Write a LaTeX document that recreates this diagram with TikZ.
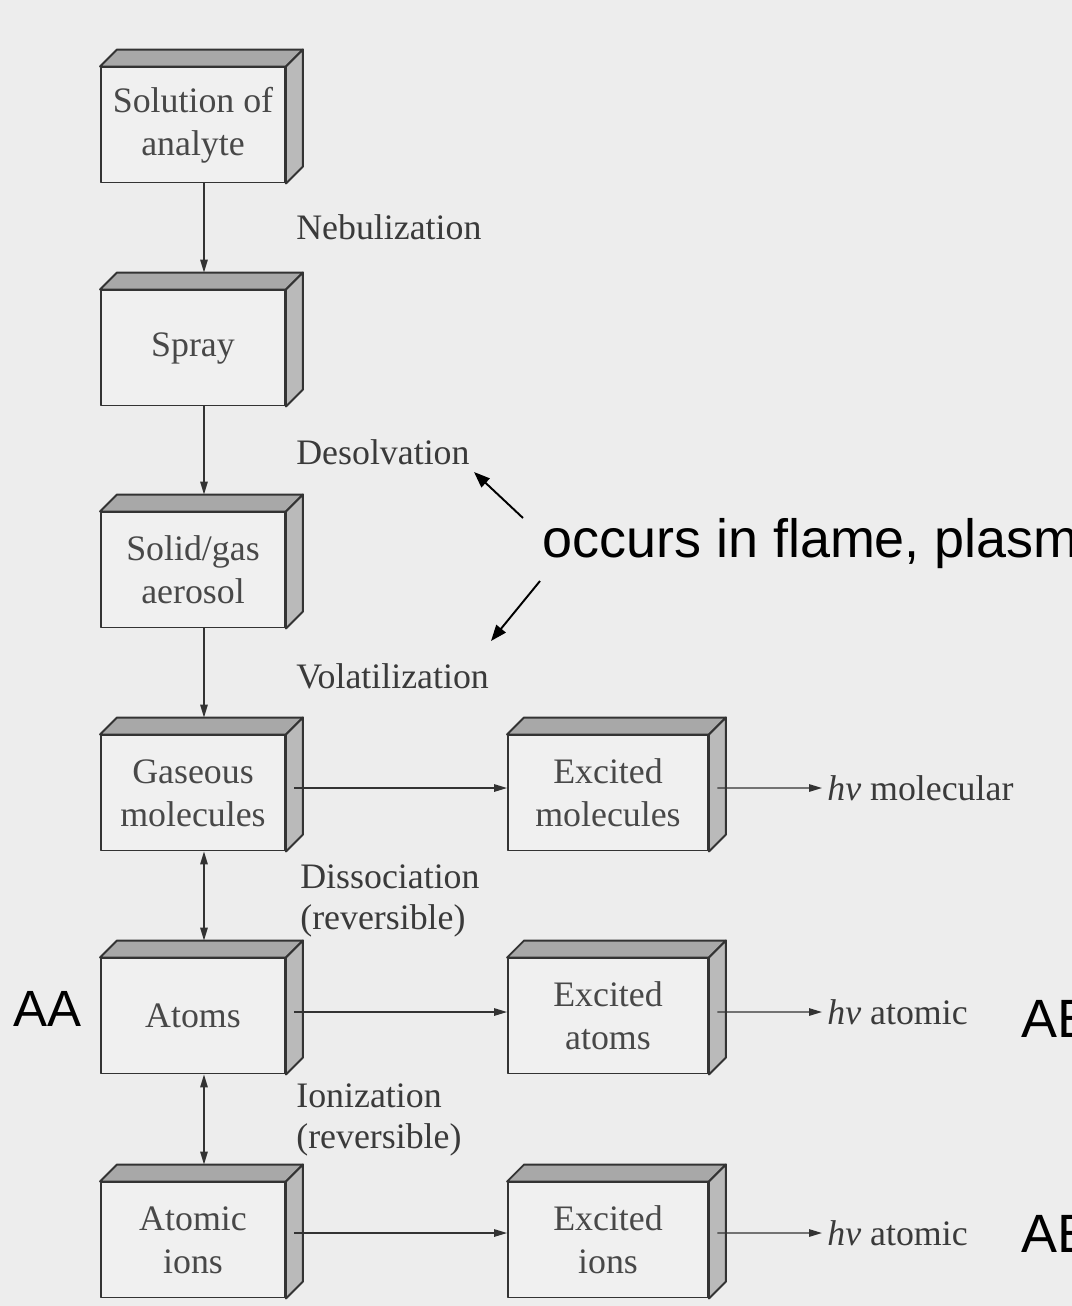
\documentclass[tikz,border=0pt]{standalone}
\usepackage{fontspec}
\setmainfont{Liberation Serif}
\newfontfamily\annotfont{Liberation Sans}
\usetikzlibrary{arrows.meta}
\definecolor{bg}{HTML}{EDEDED}
\definecolor{frontfill}{HTML}{F0F0F0}
\definecolor{topfill}{HTML}{A8A8A8}
\definecolor{sidefill}{HTML}{BABABA}
\definecolor{boxline}{HTML}{333333}
\definecolor{boxtext}{HTML}{484848}
\definecolor{labeltext}{HTML}{3A3A3A}
\newcommand{\cubefaces}[1]{%
  \filldraw[topface] (#1.north west) -- ++(17,-17) -- ([shift={(17,-17)}]#1.north east) -- (#1.north east) -- cycle;
  \filldraw[sideface] (#1.north east) -- ++(17,-17) -- ([shift={(17,-17)}]#1.south east) -- (#1.south east) -- cycle;
}
\begin{document}
\begin{tikzpicture}[x=0.02cm,y=-0.02cm,
  frontbox/.style={draw=boxline, fill=frontfill, line width=1.1pt, line join=round,
    minimum width=3.68cm, minimum height=2.3cm, inner sep=0pt, align=center,
    text=boxtext, font=\fontsize{20.4}{24.4}\selectfont},
  widebox/.style={frontbox, minimum width=4cm},
  topface/.style={draw=boxline, fill=topfill, line width=1.1pt, line join=round},
  sideface/.style={draw=boxline, fill=sidefill, line width=1.1pt, line join=round},
  flow/.style={draw=boxline, line width=0.8pt, -{Triangle[length=0.26cm,width=0.15cm]}},
  flowboth/.style={draw=boxline, line width=0.8pt, {Triangle[length=0.26cm,width=0.15cm]}-{Triangle[length=0.26cm,width=0.15cm]}},
  steplabel/.style={anchor=west, inner sep=0pt, align=left, text=labeltext, font=\fontsize{20.4}{23.4}\selectfont},
  outlabel/.style={anchor=west, inner sep=0.1cm, text=labeltext, font=\fontsize{20.4}{23.4}\selectfont},
  annot/.style={anchor=base west, inner sep=0pt, text=black, font=\annotfont\fontsize{30.7}{36}\selectfont},
  annarrow/.style={draw=black, line width=1.1pt, -{Triangle[length=0.32cm,width=0.24cm]}}
]
\useasboundingbox (0,0) rectangle (1072,1306);
\clip (0,0) rectangle (1072,1306);
\fill[bg] (0,0) rectangle (1072,1306);

% left column
\node[frontbox] (b1) at (193,125) {Solution of\\analyte};
\cubefaces{b1}
\node[frontbox] (b2) at (193,348) {Spray};
\cubefaces{b2}
\node[frontbox] (b3) at (193,570) {Solid/gas\\aerosol};
\cubefaces{b3}
\node[frontbox] (b4) at (193,793) {Gaseous\\molecules};
\cubefaces{b4}
\node[frontbox] (b5) at (193,1016) {Atoms};
\cubefaces{b5}
\node[frontbox] (b6) at (193,1240) {Atomic\\ions};
\cubefaces{b6}

% right column
\node[widebox] (r1) at (608,793) {Excited\\molecules};
\cubefaces{r1}
\node[widebox] (r2) at (608,1016) {Excited\\atoms};
\cubefaces{r2}
\node[widebox] (r3) at (608,1240) {Excited\\ions};
\cubefaces{r3}

% vertical flow
\draw[flow] ([xshift=0.22cm]b1.south) -- ([xshift=0.22cm,yshift=0.34cm]b2.north);
\draw[flow] ([xshift=0.22cm]b2.south) -- ([xshift=0.22cm,yshift=0.34cm]b3.north);
\draw[flow] ([xshift=0.22cm]b3.south) -- ([xshift=0.22cm,yshift=0.34cm]b4.north);
\draw[flowboth] ([xshift=0.22cm]b4.south) -- ([xshift=0.22cm,yshift=0.34cm]b5.north);
\draw[flowboth] ([xshift=0.22cm]b5.south) -- ([xshift=0.22cm,yshift=0.34cm]b6.north);

% horizontal flow
\draw[flow] ([xshift=0.17cm,yshift=0.1cm]b4.east) -- ([yshift=0.1cm]r1.west);
\draw[flow] ([xshift=0.17cm,yshift=0.08cm]b5.east) -- ([yshift=0.08cm]r2.west);
\draw[flow] ([xshift=0.17cm,yshift=0.14cm]b6.east) -- ([yshift=0.14cm]r3.west);

% step labels
\node[steplabel] (l1) at (296,227) {Nebulization};
\node[steplabel] (l2) at (296,452) {Desolvation};
\node[steplabel] (l3) at (296,676) {Volatilization};
\node[steplabel] (l4) at (300,901) {Dissociation\\(reversible)};
\node[steplabel] (l5) at (296,1120) {Ionization\\(reversible)};

% outputs
\node[outlabel] (o1) at (822,788) {\textit{hν} molecular};
\node[outlabel] (o2) at (822,1012) {\textit{hν} atomic};
\node[outlabel] (o3) at (822,1233) {\textit{hν} atomic};
\draw[flow] ([xshift=0.17cm,yshift=0.1cm]r1.east) -- (o1.west);
\draw[flow] ([xshift=0.17cm,yshift=0.08cm]r2.east) -- (o2.west);
\draw[flow] ([xshift=0.17cm,yshift=0.14cm]r3.east) -- (o3.west);

% annotations
\node[annot] (occ) at (542,557) {occurs in flame, plasm};
\node[annot, font=\annotfont\fontsize{29}{34}\selectfont] (aa) at (13,1026) {AA};
\node[annot] (ae1) at (1021,1037) {AE};
\node[annot] (ae2) at (1021,1252) {AE};
\coordinate (a1s) at (523,518);
\coordinate (a1e) at (474,472);
\coordinate (a2s) at (540,581);
\coordinate (a2e) at (491,641);
\draw[annarrow] (a1s) -- (a1e);
\draw[annarrow] (a2s) -- (a2e);
\end{tikzpicture}
\end{document}
